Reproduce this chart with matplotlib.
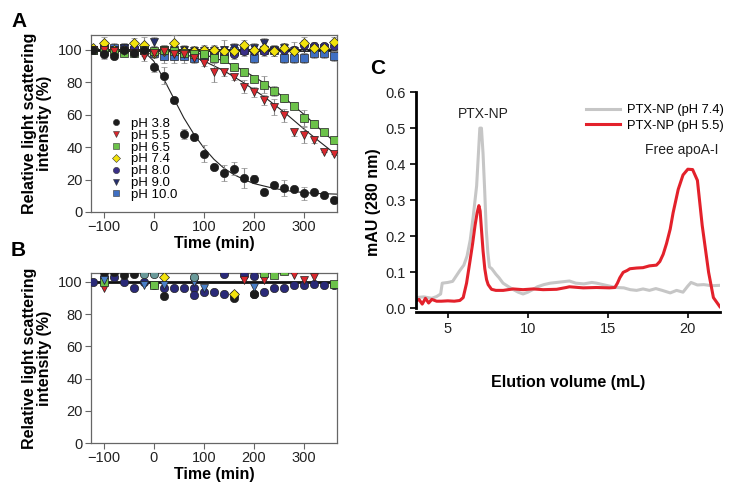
import matplotlib.pyplot as plt
import numpy as np

plt.rcParams['font.family'] = ['Liberation Sans', 'DejaVu Sans']

# ---------------- panel A data ----------------
times = list(range(-120, 361, 20))

ph_labels = ['pH 3.8', 'pH 5.5', 'pH 6.5', 'pH 7.4', 'pH 8.0', 'pH 9.0', 'pH 10.0']
ph38 = [100, 97, 96, 100, 98, 100, 89, 84, 69, 48, 46, 36, 28, 24, 26.5, 21, 20.5,
        12.5, 16.5, 15, 14, 11.5, 12.5, 10.5, 7.5]
ph55 = [100, 100, 99, 99, 98, 96, 98, 99, 97, 97, 95, 92, 86, 86, 83, 77, 74, 69,
        64.5, 59.5, 49, 47.5, 44.5, 37, 35.5]
ph65 = [100, 100, 99, 98, 98, 100, 99, 100, 99, 98, 97, 97, 95, 94, 89.5, 86.5, 82,
        78.5, 74.5, 70, 65.5, 58, 54.5, 49.5, 44.5]
ph74 = [101, 104, 100, 100, 104, 103, 98, 99, 104, 99, 99, 100, 100, 99, 99, 103, 100,
        101, 99, 101, 99, 104, 101, 101, 105]
ph80 = [100, 102, 100, 100, 101, 101, 99, 100, 100, 99, 99, 97, 99, 96, 97, 99, 99, 99,
        100, 100, 100, 103, 102, 102, 102]
ph90 = [100, 101, 100, 101, 100, 99, 105, 100, 100, 100, 99, 99, 99, 100, 101, 101, 101,
        104, 99, 101, 99, 101, 101, 101, 103]
ph100 = [100, 99, 101, 101, 99, 100, 98, 96, 96, 96, 95, 96, 98, 98, 99, 100, 95, 100,
         100, 95, 95, 95, 98, 98, 96]

err38 = [0, 3, 2, 3, 2, 2, 3, 5, 2, 3, 0, 5, 0, 5, 4, 6, 2, 0, 0, 5, 0, 4, 0, 0, 0]
err55 = [0, 2, 2, 2, 2, 3, 2, 2, 2, 2, 2, 2, 6, 2, 2, 4, 3, 3, 5, 4, 2, 5, 2, 0, 0]
err65 = [0, 2, 2, 2, 2, 2, 2, 2, 2, 2, 2, 2, 2, 2, 2, 2, 2, 5, 3, 2, 2, 5, 2, 0, 0]
err74 = [0, 4, 3, 3, 3, 5, 2, 3, 5, 3, 2, 3, 3, 3, 3, 3, 2, 2, 3, 3, 3, 4, 3, 2, 3]
err80 = [0, 3, 3, 3, 3, 3, 3, 3, 3, 3, 3, 3, 3, 3, 3, 3, 3, 3, 3, 3, 5, 3, 3, 2, 3]
err90 = [0, 3, 3, 3, 3, 3, 3, 3, 3, 3, 3, 3, 3, 6, 3, 3, 3, 3, 3, 3, 3, 3, 3, 3, 3]
err100 = [0, 4, 3, 3, 3, 3, 3, 4, 4, 4, 3, 3, 3, 3, 3, 3, 3, 3, 3, 3, 3, 3, 3, 3, 3]

# fitted curves
fit38_t = [-125, -40, -20, 0, 20, 40, 60, 80, 100, 120, 140, 160, 180, 200, 240, 280, 320, 365]
fit38_y = [100, 100, 99, 93, 82, 70, 58, 48, 39.5, 32.5, 27, 23, 20, 17.5, 14.5, 12.5, 11.5, 11]
fit55_t = [-20, 0, 40, 80, 100, 140, 180, 220, 260, 300, 330, 365]
fit55_y = [100, 99.8, 98.5, 95.5, 93, 87, 79.5, 71, 61.5, 51, 43.5, 35]
fit65_t = [-20, 0, 60, 100, 140, 180, 220, 260, 300, 330, 365]
fit65_y = [100, 99.9, 99, 97, 93, 87, 79.5, 70.5, 60, 51.5, 42]

# ---------------- panel B data ----------------
b_navy_t = [-120, -100, -80, -60, -40, -20, 0, 20, 40, 60, 80, 80, 100, 120, 140, 140,
            160, 180, 200, 200, 220, 240, 260, 280, 300, 320, 340, 360]
b_navy_y = [100, 103, 103, 100, 96, 100, 98, 96, 96.5, 96, 96, 92, 94, 93.5, 105, 92.5,
            92, 104, 103.5, 92.5, 94, 96.5, 96.5, 98, 98, 99, 98, 98]
b_black_t = [-100, -80, -60, -40, 20, 160, 200]
b_black_y = [106, 106, 104.5, 105, 91, 90, 92.5]
b_red_t = [-100, 180, 220, 280, 300, 320]
b_red_y = [96, 101, 101, 104, 101, 103]
b_green_t = [-100, 0, 220, 240, 260, 360]
b_green_y = [100, 98, 105.5, 104.5, 106.5, 99]
b_yellow_t = [20, 160]
b_yellow_y = [103, 92.5]
b_blue_t = [-100, -20, 20, 80, 100, 200]
b_blue_y = [101, 98, 98, 100, 96, 97]
b_teal_t = [-20, 0, 80]
b_teal_y = [105, 105, 103]

# ---------------- panel C data ----------------
c74_x = [3.0, 3.5, 4.0, 4.3, 4.55, 4.65, 5.0, 5.3, 5.75, 6.0, 6.2, 6.4, 6.6, 6.8, 6.9,
         7.0, 7.1, 7.2, 7.3, 7.4, 7.5, 7.6, 7.75, 8.0, 8.2, 8.45, 8.8, 9.1, 9.4, 9.7,
         10.0, 10.3, 10.6, 11.0, 11.4, 11.8, 12.2, 12.6, 13.0, 13.5, 14.0, 14.3, 14.7,
         15.1, 15.5, 16.0, 16.4, 16.8, 17.2, 17.6, 18.0, 18.4, 18.9, 19.3, 19.7, 20.0,
         20.2, 20.6, 21.0, 21.5, 22.0]
c74_y = [0.03, 0.032, 0.028, 0.033, 0.04, 0.07, 0.072, 0.075, 0.105, 0.12, 0.145, 0.19,
         0.26, 0.34, 0.42, 0.5, 0.5, 0.43, 0.33, 0.22, 0.155, 0.115, 0.11, 0.095, 0.085,
         0.07, 0.06, 0.052, 0.045, 0.04, 0.045, 0.052, 0.06, 0.066, 0.07, 0.072, 0.074,
         0.076, 0.07, 0.068, 0.072, 0.07, 0.066, 0.062, 0.058, 0.057, 0.052, 0.05, 0.054,
         0.05, 0.055, 0.05, 0.043, 0.05, 0.045, 0.062, 0.072, 0.065, 0.066, 0.063, 0.064]
c55_x = [3.0, 3.2, 3.4, 3.6, 3.8, 4.0, 4.3, 4.6, 5.0, 5.4, 5.75, 5.96, 6.17, 6.38, 6.55,
         6.7, 6.83, 6.94, 7.02, 7.1, 7.2, 7.31, 7.42, 7.52, 7.73, 8.0, 8.46, 9.08, 9.7,
         10.33, 10.96, 11.8, 12.4, 12.6, 13.46, 14.29, 15.1, 15.44, 15.6, 15.75, 15.96,
         16.2, 16.38, 16.8, 17.2, 17.6, 18.04, 18.25, 18.46, 18.67, 18.9, 19.08, 19.4,
         19.7, 20.0, 20.3, 20.6, 20.9, 21.3, 21.6, 22.0]
c55_y = [0.02, 0.025, 0.012, 0.028, 0.015, 0.025, 0.02, 0.02, 0.021, 0.02, 0.022, 0.03,
         0.07, 0.13, 0.18, 0.23, 0.265, 0.285, 0.27, 0.22, 0.16, 0.11, 0.08, 0.066, 0.053,
         0.05, 0.05, 0.054, 0.052, 0.054, 0.052, 0.053, 0.058, 0.06, 0.057, 0.058, 0.057,
         0.058, 0.07, 0.085, 0.1, 0.105, 0.11, 0.112, 0.113, 0.118, 0.12, 0.13, 0.15,
         0.18, 0.22, 0.265, 0.33, 0.37, 0.386, 0.385, 0.355, 0.23, 0.1, 0.03, 0.005]

col = {'pH 3.8': '#1c1c1c', 'pH 5.5': '#d9282e', 'pH 6.5': '#6cc24a',
       'pH 7.4': '#f2e20c', 'pH 8.0': '#3a2f87', 'pH 9.0': '#26306e',
       'pH 10.0': '#3f6fc2'}
mk = {'pH 3.8': 'o', 'pH 5.5': 'v', 'pH 6.5': 's', 'pH 7.4': 'D', 'pH 8.0': 'o',
      'pH 9.0': 'v', 'pH 10.0': 's'}

fig = plt.figure(figsize=(7.36, 4.87), dpi=100)
axA = fig.add_axes([0.1236, 0.5647, 0.334, 0.3634])
axB = fig.add_axes([0.1236, 0.0903, 0.334, 0.349])
axC = fig.add_axes([0.565, 0.3593, 0.413, 0.4517])

# ---- panel A ----
axA.plot([-125, 365], [100, 100], color='#111111', lw=2, zorder=2)
axA.plot(fit38_t, fit38_y, color='#222222', lw=0.8, zorder=2)
axA.plot(fit55_t, fit55_y, color='#222222', lw=0.8, zorder=2)
axA.plot(fit65_t, fit65_y, color='#222222', lw=0.8, zorder=2)

series = [ph38, ph55, ph65, ph74, ph80, ph90, ph100]
errs = [err38, err55, err65, err74, err80, err90, err100]
order = [6, 5, 4, 3, 2, 1, 0]
for i in order:
    lab = ph_labels[i]
    ms = 6 if mk[lab] != 'D' else 5
    axA.errorbar(times, series[i], yerr=errs[i], fmt=mk[lab], ms=ms,
                 mfc=col[lab], mec='#222222', mew=0.5, ecolor='#8a8a8a',
                 elinewidth=0.8, capsize=2.5, capthick=0.8, zorder=3)

# legend with smaller markers than the plotted points
leg_handles = []
for lab in ph_labels:
    h, = axA.plot([], [], mk[lab], ms=4.5 if mk[lab] != 'D' else 4, mfc=col[lab],
                  mec='#333333', mew=0.4, ls='none')
    leg_handles.append(h)
axA.legend(handles=leg_handles, labels=ph_labels, loc='upper left',
           bbox_to_anchor=(0.055, 0.57), frameon=False, fontsize=9.5,
           handlelength=0.8, handletextpad=0.7, labelspacing=-0.03, borderpad=0)

# ---- panel B ----
axB.plot([-125, 365], [100, 100], color='#111111', lw=2, zorder=2)
b_sets = [(b_navy_t, b_navy_y, '#2a2a78', 'o'), (b_black_t, b_black_y, '#1c1c1c', 'o'),
          (b_red_t, b_red_y, '#d9282e', 'v'), (b_green_t, b_green_y, '#6cc24a', 's'),
          (b_yellow_t, b_yellow_y, '#f2e20c', 'D'), (b_blue_t, b_blue_y, '#4a80c8', 'v'),
          (b_teal_t, b_teal_y, '#6a9a9a', 'o')]
for t, y, c, m in b_sets:
    axB.plot(t, y, m, ms=6 if m != 'D' else 5, mfc=c, mec='#222222', mew=0.5,
             ls='none', zorder=3)

for ax in (axA, axB):
    ax.set_xlim(-125, 365)
    ax.set_xticks([-100, 0, 100, 200, 300])
    ax.set_yticks([0, 20, 40, 60, 80, 100])
    ax.tick_params(labelsize=10.5, color='#666666', length=4, width=0.8,
                   labelcolor='#222222', pad=2)
    for s in ax.spines.values():
        s.set_color('#666666')
        s.set_linewidth(0.9)
    ax.set_xlabel('Time (min)', fontsize=11.5, fontweight='bold', labelpad=1)
    ax.set_ylabel('Relative light scattering\nintensity (%)', fontsize=11.5,
                  fontweight='bold', linespacing=1.0, labelpad=4)
axA.set_ylim(0, 109)
axB.set_ylim(0, 105.5)

# ---- panel C ----
axC.plot(c74_x, c74_y, color='#c6c6c6', lw=2.2, label='PTX-NP (pH 7.4)')
axC.plot(c55_x, c55_y, color='#e3212b', lw=2.2, label='PTX-NP (pH 5.5)')
axC.set_xlim(3, 22)
axC.set_ylim(-0.01, 0.6)
axC.set_xticks([5, 10, 15, 20])
axC.set_yticks([0.0, 0.1, 0.2, 0.3, 0.4, 0.5, 0.6])
axC.yaxis.set_major_formatter(plt.FormatStrFormatter('%.1f'))
axC.spines['top'].set_visible(False)
axC.spines['right'].set_visible(False)
axC.spines['left'].set_linewidth(2)
axC.spines['bottom'].set_linewidth(2)
axC.spines['left'].set_bounds(0, 0.6)
axC.tick_params(labelsize=10.5, length=4, width=1.2, labelcolor='#222222', pad=3)
axC.set_xlabel('Elution volume (mL)', fontsize=11.5, fontweight='bold', labelpad=28)
axC.set_ylabel('mAU (280 nm)', fontsize=11.5, fontweight='bold', labelpad=3)
axC.text(7.2, 0.54, 'PTX-NP', ha='center', va='center', fontsize=10, color='#222222')
axC.text(19.6, 0.44, 'Free apoA-I', ha='center', va='center', fontsize=10, color='#222222')
axC.legend(loc='upper right', bbox_to_anchor=(1.035, 0.975), frameon=False, fontsize=9.3,
           handlelength=2.6, handletextpad=0.55, labelspacing=0.3, borderpad=0)

fig.text(0.015, 0.955, 'A', fontsize=15, fontweight='bold', va='center')
fig.text(0.015, 0.485, 'B', fontsize=15, fontweight='bold', va='center')
fig.text(0.503, 0.86, 'C', fontsize=15, fontweight='bold', va='center')

fig.savefig('out.png', dpi=100)
